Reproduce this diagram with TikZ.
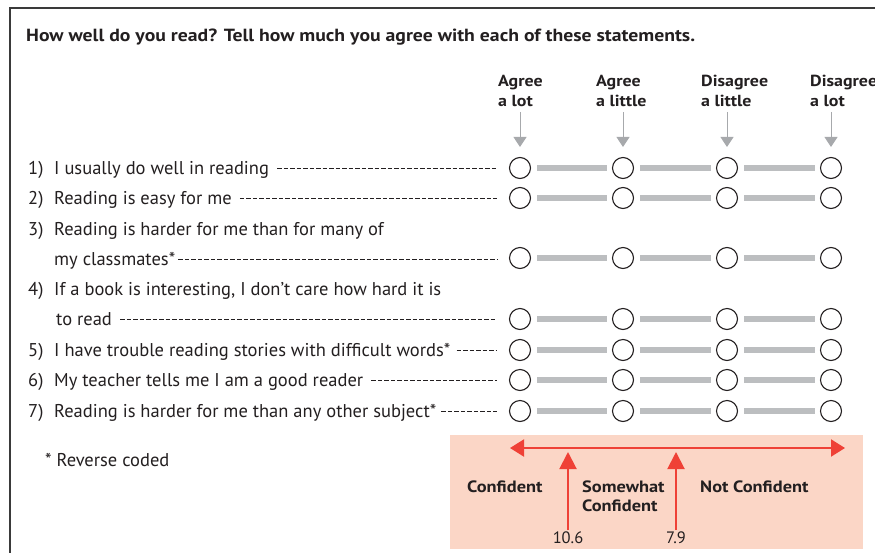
\documentclass[tikz,border=0pt]{standalone}
\usepackage{fontspec}
\setmainfont{PT Sans}
\newfontfamily\bfam[FakeStretch=1.12]{PT Sans}
\usetikzlibrary{arrows.meta,calc}
\definecolor{ink}{HTML}{231F20}
\definecolor{bargray}{HTML}{BCBEC0}
\definecolor{arrgray}{HTML}{A7A9AC}
\definecolor{pinkbg}{HTML}{FBD6C6}
\definecolor{redarr}{HTML}{EF4136}
\definecolor{framec}{HTML}{3A3A3A}
\tikzset{
  item/.style={anchor=base west,inner sep=0pt,font=\fontsize{18.5}{20}\selectfont,text=ink},
  boldtxt/.style={anchor=base west,inner sep=0pt,font=\bfam\fontsize{16.4}{19}\selectfont\bfseries,text=ink,align=left},
  titletxt/.style={anchor=base west,inner sep=0pt,font=\bfam\fontsize{17.6}{20}\selectfont\bfseries,text=ink},
  hdr/.style={anchor=base west,inner sep=0pt,font=\bfam\fontsize{16}{20}\selectfont\bfseries,text=ink,align=left},
  circ/.style={circle,draw=ink,line width=1.1pt,minimum size=21pt,inner sep=0pt},
  bar/.style={draw=bargray,line width=5.5pt},
  leader/.style={draw=ink,line width=0.8pt,dash pattern=on 4.5pt off 2pt},
  garrow/.style={draw=arrgray,line width=0.9pt,-{Triangle[width=13pt,length=10pt]}},
  redline/.style={draw=redarr,line width=2pt},
  frame/.style={draw=framec,line width=2pt},
}
\begin{document}
\begin{tikzpicture}[x=1pt,y=-1pt]
\useasboundingbox (0,0) rectangle (875,552);
\clip (0,0) rectangle (875,552);
% frame
\draw[frame] (10,570) -- (10,8) -- (890,8);
% title
\node[titletxt] (title) at (26,41) {How well do you read? Tell how much you agree with each of these statements.};
% headers (base = last line)
\node[hdr] (h1) at (498,106) {Agree\\a lot};
\node[hdr] (h2) at (596,106) {Agree\\a little};
\node[hdr] (h3) at (701,106) {Disagree\\a little};
\node[hdr] (h4) at (810,106) {Disagree\\a lot};
% circles and bars
\foreach \r/\y in {1/168,2/198,3/258,4/319,5/350,6/380,7/411}{
  \foreach \c/\x in {a/520,b/623,c/727,d/831}{
    \node[circ] (c\r\c) at (\x,\y) {};
  }
  \draw[bar] ($(c\r a.east)+(6,0)$) -- ($(c\r b.west)+(-5,0)$);
  \draw[bar] ($(c\r b.east)+(6,0)$) -- ($(c\r c.west)+(-5,0)$);
  \draw[bar] ($(c\r c.east)+(6,0)$) -- ($(c\r d.west)+(-5,0)$);
}
% gray arrows
\foreach \c in {a,b,c,d}{
  \draw[garrow] ($(c1\c.north)+(0,-45)$) -- ($(c1\c.north)+(0,-10)$);
}
% items
\node[item] (n1) at (28,174) {1)};
\node[item] (t1) at (54,174) {I usually do well in reading};
\node[item] (n2) at (28,204) {2)};
\node[item] (t2) at (54,204) {Reading is easy for me};
\node[item] (n3) at (28,235) {3)};
\node[item] (t3a) at (54,235) {Reading is harder for me than for many of};
\node[item] (t3) at (54,265) {my classmates*};
\node[item] (n4) at (28,295) {4)};
\node[item] (t4a) at (54,295) {If a book is interesting, I don’t care how hard it is};
\node[item] (t4) at (56,325) {to read};
\node[item] (n5) at (28,356) {5)};
\node[item] (t5) at (54,356) {I have trouble reading stories with difficult words*};
\node[item] (n6) at (28,386) {6)};
\node[item] (t6) at (54,386) {My teacher tells me I am a good reader};
\node[item] (n7) at (28,417) {7)};
\node[item] (t7) at (54,417) {Reading is harder for me than any other subject*};
% leaders
\coordinate (L) at (497,0);
\foreach \t/\g in {t1/8,t2/8,t3/3,t4/8,t5/6,t6/8,t7/5}{
  \draw[leader] ($(\t.base east)+(\g,-5.5)$) -- ($(\t.base east -| L)+(0,-5.5)$);
}
\node[item] (rev) at (45,466) {* Reverse coded};
% confidence panel
\fill[pinkbg] (450,435) rectangle (863,549);
\coordinate (axL) at (510,448);
\coordinate (axR) at (845,448);
\draw[redline,{Triangle[width=17pt,length=14pt]}-{Triangle[width=17pt,length=14pt]}] (axL) -- (axR);
\node[boldtxt] (conf) at (467,492) {Confident};
\node[boldtxt] (some) at (582,511) {Somewhat\\Confident};
\node[boldtxt] (notc) at (700,492) {Not Confident};
\node[anchor=base,inner sep=1pt,font=\fontsize{16.5}{20}\selectfont,text=ink] (v1) at (568,543) {10.6};
\node[anchor=base,inner sep=1pt,font=\fontsize{16.5}{20}\selectfont,text=ink] (v2) at (676,543) {7.9};
\draw[redline,-{Triangle[width=17pt,length=17pt]}] (v1.north) -- ($(v1.north |- axL)+(0,4)$);
\draw[redline,-{Triangle[width=17pt,length=17pt]}] (v2.north) -- ($(v2.north |- axL)+(0,4)$);
\end{tikzpicture}
\end{document}
